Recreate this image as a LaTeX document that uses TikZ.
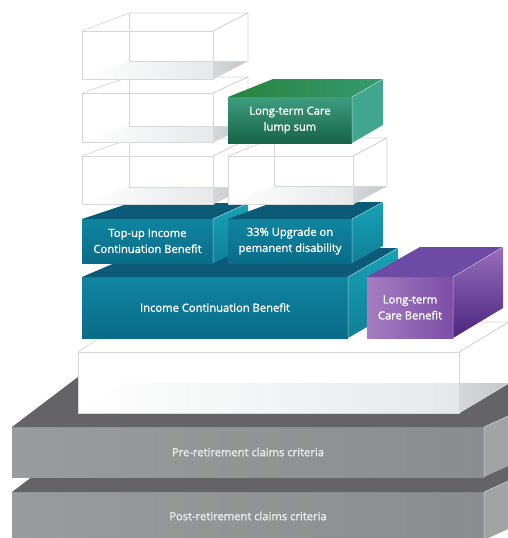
\documentclass[tikz,border=0pt]{standalone}
\usepackage{fontspec}
\setmainfont{Open Sans}
\newfontfamily\boxfont{Open Sans}[FakeBold=1.5]
\usepackage{tikz}
\usetikzlibrary{calc}
\definecolor{ctealhi}{HTML}{0F85A0}
\definecolor{ctealfr}{HTML}{0A6C89}
\definecolor{ctealtp}{HTML}{0A5A78}
\definecolor{ctealsd}{HTML}{18A2B6}
\definecolor{ctealsk}{HTML}{0F7F97}
\definecolor{cgreenhi}{HTML}{3E9D7F}
\definecolor{cgreenfr}{HTML}{176449}
\definecolor{cgreentp}{HTML}{27833F}
\definecolor{cgreentq}{HTML}{369A6E}
\definecolor{cgreensd}{HTML}{40A68D}
\definecolor{cpurphi}{HTML}{A67DC1}
\definecolor{cpurpfr}{HTML}{7B4EA5}
\definecolor{cpurptp}{HTML}{6D4BA5}
\definecolor{cpurpsd}{HTML}{9A6DBC}
\definecolor{cpurpsk}{HTML}{4A2680}
\definecolor{cgreyfr}{HTML}{8B8C8F}
\definecolor{cgreyhi}{HTML}{9A9B9D}
\definecolor{cgreytp}{HTML}{646466}
\definecolor{cgreysd}{HTML}{A2A3A5}
\definecolor{cglass}{HTML}{D7D7D7}
\definecolor{cfloor}{HTML}{E6E8E9}
\definecolor{cfloorsd}{HTML}{C3C7CA}
\tikzset{
  frontface/.style={anchor=north west, inner sep=0pt, outer sep=0pt,
                    align=center, text=white,
                    font=\boxfont\fontsize{11.2}{16}\selectfont},
  glassface/.style={frontface, fill=white, draw=cglass, line width=0.7pt},
  tealface/.style={frontface, top color=ctealhi, bottom color=ctealfr},
  greenface/.style={frontface, top color=cgreenhi, bottom color=cgreenfr},
  purpleface/.style={frontface, left color=cpurphi, right color=cpurpfr},
  greyface/.style={frontface, left color=cgreyhi, right color=cgreyfr,
                   text=white!92!black},
  tealtop/.style={fill=ctealtp},
  tealside/.style={top color=ctealsd, bottom color=ctealsk},
  greentop/.style={left color=cgreentp, right color=cgreentq},
  greenside/.style={fill=cgreensd},
  purpletop/.style={fill=cpurptp},
  purpleside/.style={top color=cpurpsd, bottom color=cpurpsk},
  greytop/.style={fill=cgreytp},
  greyside/.style={fill=cgreysd},
  glassfloor/.style={left color=white, right color=cfloor},
  glassshade/.style={left color=cfloorsd!70!white, right color=cfloorsd},
  glassedge/.style={draw=cglass, line width=0.7pt, line join=round},
  noedge/.style={draw=none},
  rim/.style={draw=white, opacity=0.55, line width=0.5pt}
}
% coloured block: front node, left depth, right depth, rise, top style, side style
\newcommand{\cuboid}[6]{%
  \path[#5] (#1.north west) -- ++(#2,#4) -- ($(#1.north east)+(#3,#4)$) -- (#1.north east) -- cycle;
  \path[#6] (#1.north east) -- ++(#3,#4) -- ($(#1.south east)+(#3,#4)$) -- (#1.south east) -- cycle;
  \draw[rim] (#1.south east) -- (#1.north east) -- ++(#3,#4);
}
% see-through block: [back edge style] front node, left depth, right depth, rise
\newcommand{\glassbox}[5][glassedge]{%
  \fill[white] (#2.north west) -- ++(#3,#5) -- ($(#2.north east)+(#4,#5)$)
    -- ($(#2.south east)+(#4,#5)$) -- (#2.south east) -- cycle;
  \path[glassfloor] (#2.south west) -- ++(#3,#5) -- ($(#2.south east)+(0,#5)$) -- (#2.south east) -- cycle;
  \path[glassshade] (#2.south east) -- ($(#2.south east)+(0,#5)$) -- ($(#2.south east)+(#4,#5)$) -- cycle;
  \path[#1] ($(#2.north west)+(#3,#5)$) -- ($(#2.south west)+(#3,#5)$) -- ($(#2.south east)+(#4,#5)$);
  \draw[glassedge] (#2.north west) -- ++(#3,#5) -- ($(#2.north east)+(#4,#5)$) -- (#2.north east);
  \draw[glassedge] (#2.north east) -- ++(#4,#5) -- ($(#2.south east)+(#4,#5)$) -- (#2.south east);
  \draw[glassedge] (#2.south west) rectangle (#2.north east);
}

\begin{document}
\begin{tikzpicture}[x=1pt, y=-1pt]
  \useasboundingbox (0,0) rectangle (508,538);
  \clip (0,0) rectangle (508,538);
  \fill[white] (0,0) rectangle (508,538);

  % claims criteria
  \node[greyface, minimum width=472pt, minimum height=48pt] (post) at (12,492)
    {Post-retirement claims criteria};
  \cuboid{post}{66}{110}{-50}{greytop}{greyside}
  \node[greyface, minimum width=472pt, minimum height=50pt] (pre) at (12,427)
    {Pre-retirement claims criteria};
  \cuboid{pre}{66}{110}{-50}{greytop}{greyside}

  % platform
  \node[glassface, minimum width=381pt, minimum height=61pt] (base) at (78,352) {};
  \glassbox[noedge]{base}{46}{50}{-30}

  % main benefits
  \node[tealface, minimum width=266pt, minimum height=61pt] (icb) at (82,277)
    {Income Continuation Benefit};
  \cuboid{icb}{68}{50}{-29}{tealtop}{tealside}
  \node[purpleface, minimum width=86pt, minimum height=61pt] (ltc) at (367,277)
    {Long-term\\Care Benefit};
  \cuboid{ltc}{53}{50}{-30}{purpletop}{purpleside}

  % add-ons
  \node[tealface, minimum width=131pt, minimum height=44pt] (tu) at (82,219)
    {Top-up Income\\Continuation Benefit};
  \cuboid{tu}{48}{35}{-16}{tealtop}{tealside}
  \node[tealface, minimum width=124pt, minimum height=44pt] (up) at (228,219)
    {33\% Upgrade on\\pemanent disability};
  \cuboid{up}{46}{31}{-17}{tealtop}{tealside}

  % empty slots
  \node[glassface, minimum width=131pt, minimum height=48pt] (gc) at (82,156) {};
  \glassbox{gc}{47}{35}{-17}
  \node[glassface, minimum width=125pt, minimum height=48pt] (gd) at (228,156) {};
  \glassbox{gd}{46}{34}{-18}
  \node[glassface, minimum width=131pt, minimum height=49pt] (gb) at (82,93) {};
  \glassbox{gb}{47}{35}{-16}

  \node[greenface, minimum width=124pt, minimum height=46pt] (lump) at (228,97)
    {Long-term Care\\lump sum};
  \cuboid{lump}{45}{31}{-18}{greentop}{greenside}

  \node[glassface, minimum width=131pt, minimum height=48pt] (ga) at (82,31) {};
  \glassbox{ga}{47}{35}{-18}
\end{tikzpicture}
\end{document}
